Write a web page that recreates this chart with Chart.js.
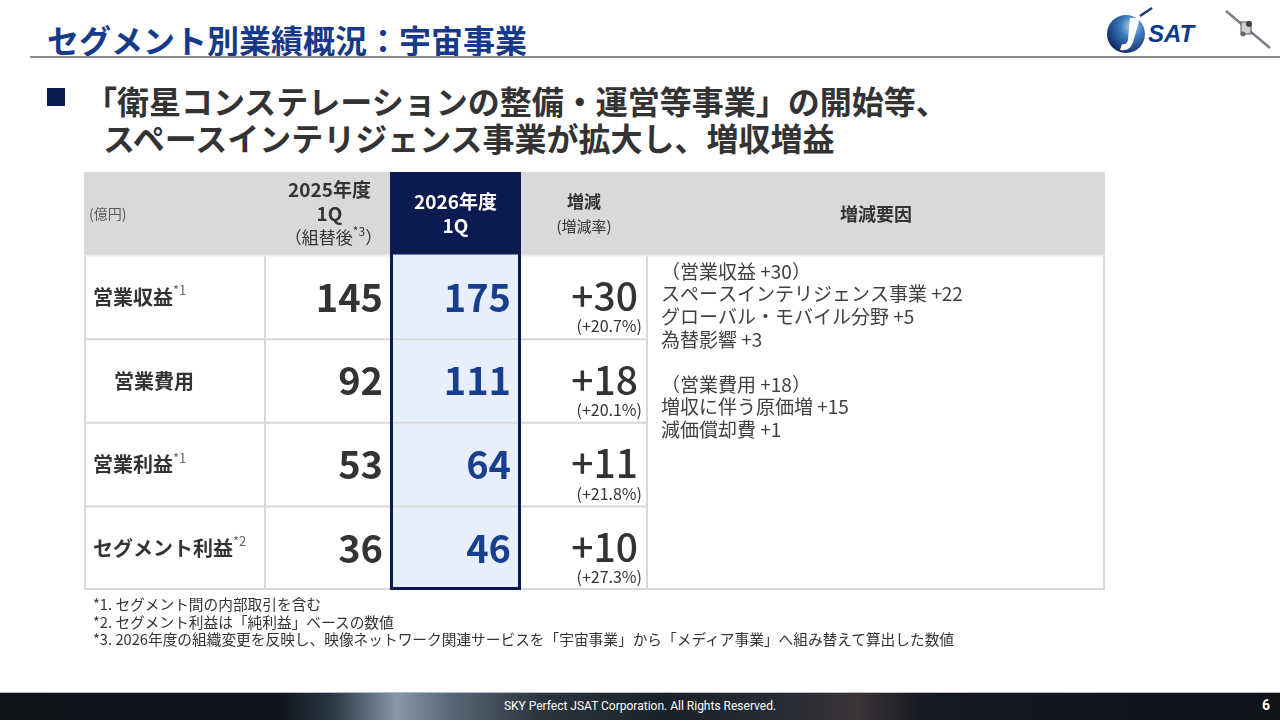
<!DOCTYPE html>
<html lang="ja">
<head>
<meta charset="utf-8">
<title>セグメント別業績概況：宇宙事業</title>
<script src="https://cdn.jsdelivr.net/npm/chart.js@4.4.1/dist/chart.umd.min.js"></script>
<style>
  body { margin: 0; width: 1280px; height: 720px; overflow: hidden; background: #fff; position: relative;
         font-family: "Noto Sans CJK JP", "Noto Sans", sans-serif; }
  .title { position: absolute; left: 47px; top: 19px; font-size: 32px; font-weight: bold; color: #163a8a;
           line-height: 40px; white-space: nowrap; }
  .rule { position: absolute; left: 30px; top: 56px; width: 1250px; height: 2px; background: #8c8c8c; }
  .bullet { position: absolute; left: 47px; top: 88px; width: 18px; height: 18px; background: #0b1a50; }
  .lead { position: absolute; font-size: 32px; font-weight: bold; color: #333; white-space: nowrap; line-height: 38px; }
  #tableWrap { position: absolute; left: 80px; top: 168px; }
  .notes { position: absolute; left: 93px; top: 595px; font-size: 14.7px; line-height: 17.5px; color: #333; white-space: nowrap; }
  .footer { position: absolute; left: 0; top: 692px; width: 1280px; height: 28px; border-top: 1px solid #bbb;
            background: linear-gradient(90deg, #0f1217 0, #12161c 22%, #2a3846 26%, #8797a5 31%, #5a6a78 35%,
                        #2b3540 42%, #1b2129 52%, #2a2c33 62%, #3b3438 67%, #161a21 72%, #0f1217 100%); }
  .footer span { position: absolute; left: 0; width: 1280px; top: 6px; text-align: center; color: #fff;
                 font-family: Roboto, "Noto Sans", sans-serif; font-size: 12px; }
  .footer b { position: absolute; left: 1262px; top: 4px; color: #fff; font-family: Roboto, sans-serif; font-size: 14px; }
  .logo { position: absolute; left: 1100px; top: 2px; }
</style>
</head>
<body>
<div class="title">セグメント別業績概況：宇宙事業</div>
<div class="rule"></div>
<svg class="logo" width="180" height="56" viewBox="0 0 180 56">
  <defs>
    <radialGradient id="globe" cx="0.65" cy="0.3" r="0.8">
      <stop offset="0" stop-color="#b9d7f0"/>
      <stop offset="0.35" stop-color="#3f7fc0"/>
      <stop offset="1" stop-color="#061d5a"/>
    </radialGradient>
  </defs>
  <circle cx="26" cy="32" r="19" fill="url(#globe)"/>
  <path d="M30 16 L40 16 L33 40 Q30 50 20 48 L22 42 Q27 43 28 38 Z" fill="#fff"/>
  <line x1="40" y1="14" x2="52" y2="6" stroke="#1d3f7a" stroke-width="2.5"/>
  <text x="48" y="40" font-family="Liberation Sans, Arial, sans-serif" font-weight="bold" font-style="italic"
        font-size="24" fill="#0b3a8c">SAT</text>
  <line x1="126" y1="9" x2="170" y2="46" stroke="#7a7f88" stroke-width="2.5"/>
  <rect x="141" y="20" width="10" height="12" fill="#cfd3d8" stroke="#555" stroke-width="1"/>
  <circle cx="149" cy="22" r="3" fill="#444"/>
  <circle cx="143" cy="32" r="2.5" fill="#666"/>
</svg>
<div class="bullet"></div>
<div class="lead" style="left:85px; top:81px;">「衛星コンステレーションの整備・運営等事業」の開始等、</div>
<div class="lead" style="left:103px; top:118px;">スペースインテリジェンス事業が拡大し、増収増益</div>

<div id="tableWrap"><canvas id="segmentChart" width="1030" height="426"></canvas></div>

<div class="notes">
  *1. セグメント間の内部取引を含む<br>
  *2. セグメント利益は「純利益」ベースの数値<br>
  *3. 2026年度の組織変更を反映し、映像ネットワーク関連サービスを「宇宙事業」から「メディア事業」へ組み替えて算出した数値
</div>

<div class="footer"><span>SKY Perfect JSAT Corporation. All Rights Reserved.</span><b>6</b></div>

<script>
// 行・列のデータ
const rowLabels = ['営業収益', '営業費用', '営業利益', 'セグメント利益'];
const rowNotes = ['*1', '', '*1', '*2'];
const rowIndent = [false, true, false, false];
const fy2025Q1 = [145, 92, 53, 36];
const fy2026Q1 = [175, 111, 64, 46];
const changeValues = [30, 18, 11, 10];
const changeRates = [20.7, 20.1, 21.8, 27.3];
const reasonLines = [
    '（営業収益 +30）',
    'スペースインテリジェンス事業 +22',
    'グローバル・モバイル分野 +5',
    '為替影響 +3',
    '',
    '（営業費用 +18）',
    '増収に伴う原価増 +15',
    '減価償却費 +1'
];
const unitLabel = '(億円)';

// 列の境界 (x軸の値)
const columnEdges = [0, 181, 306, 437, 563, 1021];

const FONT = '"Noto Sans CJK JP", "Noto Sans", sans-serif';

function drawWithSup(ctx, parts, x, y, align) {
    // parts: [{text, font, color, dy}]
    let total = 0;
    parts.forEach(p => { ctx.font = p.font; p.w = ctx.measureText(p.text).width; total += p.w; });
    let cx = align === 'center' ? x - total / 2 : (align === 'right' ? x - total : x);
    ctx.textAlign = 'left';
    parts.forEach(p => {
        ctx.font = p.font;
        ctx.fillStyle = p.color;
        ctx.fillText(p.text, cx, y + (p.dy || 0));
        cx += p.w;
    });
}

const tablePlugin = {
    id: 'segmentTable',
    afterDraw(chart) {
        const { ctx, scales: { x, y } } = chart;
        const half = (y.getPixelForValue(1) - y.getPixelForValue(0)) / 2;
        const rowTop = i => y.getPixelForValue(i) - half;
        const rowBottom = i => y.getPixelForValue(i) + half;
        const rowMid = i => y.getPixelForValue(i);
        const colX = c => x.getPixelForValue(columnEdges[c]);
        const nRows = rowLabels.length;
        const left = colX(0), right = colX(5);
        const top = rowTop(0), bottom = rowBottom(nRows);

        ctx.save();
        // 背景
        ctx.fillStyle = '#d9d9d9';
        ctx.fillRect(left, top, right - left, rowBottom(0) - top);
        ctx.fillStyle = '#ffffff';
        ctx.fillRect(left, rowTop(1), right - left, bottom - rowTop(1));
        ctx.fillStyle = '#e7eefc';
        ctx.fillRect(colX(2), rowTop(1), colX(3) - colX(2), bottom - rowTop(1));
        ctx.fillStyle = '#0b1a50';
        ctx.fillRect(colX(2), top, colX(3) - colX(2), rowBottom(0) - top);

        // 罫線
        ctx.strokeStyle = '#d9d9d9';
        ctx.lineWidth = 2;
        ctx.beginPath();
        for (let i = 1; i < nRows; i++) {
            ctx.moveTo(left, rowBottom(i));
            ctx.lineTo(colX(4), rowBottom(i));
        }
        [1, 4].forEach(c => {
            ctx.moveTo(colX(c), rowTop(1));
            ctx.lineTo(colX(c), bottom);
        });
        ctx.moveTo(left, bottom - 1); ctx.lineTo(right, bottom - 1);
        ctx.moveTo(left + 1, rowTop(1)); ctx.lineTo(left + 1, bottom);
        ctx.moveTo(right - 1, top); ctx.lineTo(right - 1, bottom);
        ctx.stroke();
        ctx.strokeStyle = '#ececec';
        ctx.beginPath();
        ctx.moveTo(left, rowTop(1)); ctx.lineTo(right, rowTop(1));
        ctx.stroke();

        // 2026年度列の枠
        ctx.strokeStyle = '#0b1a50';
        ctx.lineWidth = 3;
        ctx.strokeRect(colX(2) + 1.5, top + 1.5, colX(3) - colX(2) - 3, bottom - top - 3);

        // ヘッダー
        ctx.textBaseline = 'middle';
        const hMid = rowMid(0);
        ctx.fillStyle = '#595959';
        ctx.font = '14px ' + FONT;
        ctx.textAlign = 'left';
        ctx.fillText(unitLabel, left + 5, hMid);

        const c1 = (colX(1) + colX(2)) / 2 + 2;
        ctx.fillStyle = '#333';
        ctx.textAlign = 'center';
        ctx.font = 'bold 19px ' + FONT;
        ctx.fillText('2025年度', c1, hMid - 24);
        ctx.fillText('1Q', c1, hMid);
        drawWithSup(ctx, [
            { text: '（組替後', font: '17px ' + FONT, color: '#333' },
            { text: '*3', font: '12px ' + FONT, color: '#333', dy: -6 },
            { text: '）', font: '17px ' + FONT, color: '#333' }
        ], c1 + 4, hMid + 24, 'center');

        const c2 = (colX(2) + colX(3)) / 2;
        ctx.fillStyle = '#ffffff';
        ctx.textAlign = 'center';
        ctx.font = 'bold 19px ' + FONT;
        ctx.fillText('2026年度', c2, hMid - 12);
        ctx.fillText('1Q', c2, hMid + 12);

        const c3 = (colX(3) + colX(4)) / 2;
        ctx.fillStyle = '#333';
        ctx.font = 'bold 17px ' + FONT;
        ctx.fillText('増減', c3, hMid - 12);
        ctx.font = '15px ' + FONT;
        ctx.fillText('(増減率)', c3, hMid + 12);

        ctx.font = 'bold 18px ' + FONT;
        ctx.fillText('増減要因', (colX(4) + colX(5)) / 2, hMid);

        // 本体
        rowLabels.forEach((label, i) => {
            const m = rowMid(i + 1);
            drawWithSup(ctx, [
                { text: label, font: 'bold 20px ' + FONT, color: '#333' },
                { text: rowNotes[i], font: '13px ' + FONT, color: '#666', dy: -7 }
            ], left + (rowIndent[i] ? 30 : 9), m, 'left');

            ctx.textAlign = 'right';
            ctx.font = 'bold 38px ' + FONT;
            ctx.fillStyle = '#333';
            ctx.fillText(String(fy2025Q1[i]), colX(2) - 7, m);
            ctx.fillStyle = '#183f8f';
            ctx.fillText(String(fy2026Q1[i]), colX(3) - 10, m);

            ctx.fillStyle = '#333';
            ctx.font = '500 39px ' + FONT;
            ctx.fillText('+' + changeValues[i], colX(4) - 9, m - 1);
            ctx.font = '16px ' + FONT;
            ctx.fillText('(+' + changeRates[i].toFixed(1) + '%)', colX(4) - 5, m + 29);
        });

        ctx.textAlign = 'left';
        ctx.fillStyle = '#404040';
        ctx.font = '19px ' + FONT;
        reasonLines.forEach((line, k) => {
            ctx.fillText(line, colX(4) + 14, rowTop(1) + 16 + k * 22.6);
        });
        ctx.restore();
    }
};

new Chart(document.getElementById('segmentChart'), {
    type: 'bar',
    data: {
        labels: ['header'].concat(rowLabels),
        datasets: []
    },
    options: {
        responsive: false,
        animation: false,
        indexAxis: 'y',
        layout: { padding: 4 },
        plugins: { legend: { display: false }, tooltip: { enabled: false } },
        scales: {
            x: { type: 'linear', display: false, min: 0, max: 1022 },
            y: { type: 'category', display: false, offset: true }
        }
    },
    plugins: [tablePlugin]
});
</script>
</body>
</html>
